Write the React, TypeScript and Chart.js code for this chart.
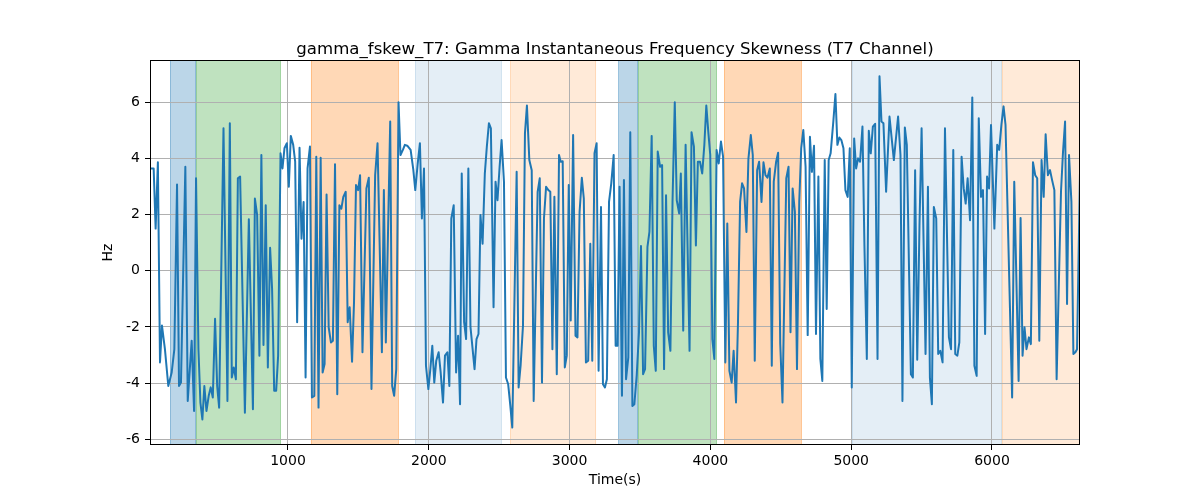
import React, { useEffect, useRef } from "react";
import { Chart, registerables } from "chart.js";

Chart.register(...registerables);

const TITLE = "gamma_fskew_T7: Gamma Instantaneous Frequency Skewness (T7 Channel)";
const X_LABEL = "Time(s)";
const Y_LABEL = "Hz";
const X_TICKS = [1000, 2000, 3000, 4000, 5000, 6000];
const Y_TICKS = [-6, -4, -2, 0, 2, 4, 6];
const X_MIN = 20;
const X_MAX = 6625;
const Y_MIN = -6.2;
const Y_MAX = 7.5;

const TIMES = [
  20, 46, 60, 76, 91, 105, 126, 150, 174, 193, 212, 226, 240, 271, 288, 316, 333, 347, 364, 378,
  392, 406, 421, 437, 451, 466, 482, 497, 511, 542, 570, 587, 601, 615, 630, 644, 660, 694, 722, 751,
  765, 781,
  797, 811, 826, 842, 857, 873, 887, 902, 916, 930, 947, 961, 975, 992, 1006, 1020, 1037, 1051, 1065, 1082,
  1096, 1111, 1125, 1139, 1156, 1170, 1187, 1201, 1217, 1232, 1246, 1260, 1274, 1289, 1305, 1319, 1334, 1350,
  1365, 1379, 1393, 1410, 1424, 1438, 1455, 1469, 1483, 1498, 1512,
  1529, 1557, 1574, 1593, 1619, 1636, 1667, 1681, 1695, 1726, 1740, 1754, 1769, 1785, 1799, 1816, 1830, 1847,
  1871, 1890, 1904, 1921, 1937, 1951, 1966, 1980, 1997, 2011, 2025, 2039, 2053, 2070, 2084, 2101, 2115, 2132,
  2146, 2160, 2177, 2194, 2208, 2222, 2234, 2251, 2265, 2281,
  2296, 2325, 2339, 2353, 2367, 2382, 2398, 2412, 2427, 2441, 2460, 2474, 2488, 2503, 2517, 2534, 2548, 2564,
  2579, 2593, 2624, 2638, 2652, 2669, 2683, 2697, 2714, 2731, 2745, 2773, 2788, 2804, 2818, 2833, 2849, 2863,
  2878, 2892, 2909, 2925, 2937, 2951, 2966, 2980, 2994, 3008, 3025,
  3042, 3056, 3071, 3087, 3101, 3116, 3132, 3147, 3161, 3177, 3192, 3206, 3223, 3237, 3251, 3265, 3280, 3296,
  3313, 3327, 3341, 3355, 3372, 3386, 3401, 3417, 3431, 3446, 3460, 3477, 3493, 3507, 3522, 3536, 3553, 3567,
  3583, 3598, 3612, 3626, 3643, 3657, 3671, 3685, 3700, 3716, 3731, 3747, 3761, 3778,
  3790, 3807, 3824, 3852, 3866, 3883, 3897, 3911, 3926, 3942, 3957, 3971, 3985, 3999, 4014, 4028, 4044, 4059,
  4075, 4090, 4106, 4120, 4135, 4151, 4165, 4182, 4196, 4211, 4225, 4239, 4256, 4270, 4287, 4301, 4315, 4332,
  4346, 4363, 4377, 4391, 4405, 4422, 4436, 4450, 4467, 4481, 4496, 4512,
  4539, 4555, 4569, 4584, 4600, 4615, 4631, 4645, 4660, 4676, 4691, 4707, 4721, 4736, 4750, 4767, 4781, 4795,
  4812, 4826, 4840, 4854, 4873, 4888, 4902, 4916, 4930, 4945, 4959, 4975, 4990, 5004, 5021, 5035, 5049, 5063,
  5080, 5094, 5111, 5125, 5139, 5154, 5170, 5187, 5201, 5215, 5229, 5248, 5272,
  5303, 5333, 5350, 5364, 5381, 5395, 5424, 5438, 5454, 5469, 5485, 5500, 5528, 5545, 5559, 5573, 5587, 5604,
  5618, 5633, 5649, 5666, 5694, 5709, 5725, 5739, 5754, 5768, 5784, 5799, 5813, 5827, 5844, 5860, 5875, 5891,
  5906, 5922, 5936, 5951, 5965, 5979, 5993, 6017,
  6037, 6051, 6067, 6082, 6096, 6143, 6158, 6189, 6203, 6217, 6231, 6245, 6262, 6276, 6291, 6307, 6321, 6336,
  6352, 6367, 6381, 6397, 6412, 6428, 6443, 6459, 6490, 6504, 6519, 6533, 6547, 6564, 6578, 6592, 6604, 6625,
];

const VALUES = [
  3.64, 3.64, 1.5, 3.86, -3.26, -1.95, -2.79, -4.1, -3.62, -2.79, 3.07, -4.1, -3.98, 3.7, -4.63, -2.49, -4.99, 3.29, -2.79, -4.69,
  -5.29, -4.1, -4.99, -4.45, -4.15, -4.51, -1.71, -4.1, -4.87, 5.07, -4.63, 5.25, -3.8, -3.44, -3.86, 3.29, 3.35, -5.05, 1.83, -4.93,
  2.57, 1.98,
  -3.02, 4.12, -2.64, 2.33, -3.44, 0.82, -0.64, -4.27, -4.27, -3.02, 4.18, 3.64, 4.36, 4.54, 2.99, 4.8, 4.48, 3.88, -1.83, 4.38,
  1.14, 2.45, -3.8, 3.64, 4.42, -4.51, -4.45, 4.06, -4.87, 4.02, -3.62, -3.32, 2.71, -2.01, -2.55, -2.49, 3.79, -4.39,
  2.33, 2.21, 2.63, 2.81, -1.83, -1.3, -3.24, -1.12, 3.05, 2.87, 3.4,
  -2.9, 2.93, 3.31, -4.21, 3.4, 4.54, -2.9, 2.87, -2.55, 5.31, -4.1, -4.45, -3.5, 6.0, 4.12, 4.3, 4.48, 4.45,
  4.3, 3.6, 2.87, 3.8, 4.54, 1.86, 3.64, -3.38, -4.21, -3.5, -2.67, -3.98, -3.2, -2.9, -3.6, -4.69, -3.02, -2.9,
  -4.1, 1.86, 2.33, -3.62, -2.31, -4.75, 3.46, -1.83, -2.43, 3.64,
  -2.0, -3.5, -2.43, -2.25, 1.98, 0.96, 3.46, 4.4, 5.25, 5.07, -1.3, 3.17, 2.51, 3.7, 4.65, 3.17, -3.8, -4.04,
  -4.8, -5.58, 3.52, -4.15, -3.38, -1.95, 4.89, 5.88, 3.94, 3.58, -4.63, 2.81, 3.29, -3.98, 1.86, 2.99, 2.87, 2.81,
  -2.79, 2.63, -3.68, 4.12, 3.88, 3.9, -3.44, -3.02, 3.05, -1.77, 4.83,
  -2.31, -2.37, 2.1, 3.31, 2.57, -3.26, -3.2, 0.96, -3.2, 4.18, 4.54, -3.56, 2.27, -4.04, -4.15, -3.86, 2.45, 3.11,
  4.12, -2.67, -2.67, 2.99, -4.45, 3.23, -3.86, -3.08, 4.93, -4.81, -4.75, -3.7, -2.19, 0.88, -3.68, -3.5, 0.85, 1.38,
  4.8, -2.67, -3.56, 4.24, 3.7, 3.76, -3.5, 2.69, -2.19, -2.85, 2.45, 6.0, 2.51, 2.04,
  3.46, -2.13, 4.48, -2.85, 4.93, 4.42, 0.9, 3.88, 3.88, 3.46, 4.48, 5.88, 4.95, 4.12, -2.43, -3.14, 4.3, 3.82,
  4.6, 4.06, -3.26, 1.68, -3.56, -3.98, -2.85, -4.69, -1.83, 2.45, 3.11, 2.93, 1.38, 3.98, 4.83, 4.12, -3.2, 3.58,
  3.88, 2.45, 3.86, 3.4, 3.31, 3.64, -3.38, 3.17, 3.88, 4.2, -2.6, -4.69,
  3.29, 3.7, -2.19, 2.93, 2.1, -3.5, 2.45, 4.36, 5.01, 3.7, -2.29, 4.77, 3.52, 4.45, -2.25, 3.35, -3.14, -3.92,
  3.94, -1.36, 3.94, 4.18, 5.31, 6.29, 4.48, 4.74, 4.65, 4.36, 2.87, 2.63, 4.36, -4.15, 4.71, 3.64, 4.0, 3.88,
  5.13, 0.9, -3.14, 4.98, 4.18, 5.13, 5.23, -3.14, 6.92, 5.31, 5.25, 2.81, 5.49,
  3.94, 5.49, 4.12, -4.63, 5.1, 4.48, -3.68, -3.8, 3.58, -3.17, 1.62, 5.07, -2.96, 2.99, -3.8, -4.75, 2.27, 1.86,
  -2.96, -2.85, -3.26, 5.07, -2.37, -2.79, 4.3, -2.96, -3.02, -2.55, 4.06, 2.93, 2.39, 3.29, 1.8, 6.17, -3.38, -3.74,
  5.43, 2.63, 2.87, -2.25, 3.35, 2.93, 5.19, 1.5,
  4.48, 4.3, 5.2, 5.85, 5.19, -4.51, 3.17, -3.92, 1.88, -3.02, -2.01, -2.79, -2.37, -2.61, 3.86, 3.4, 3.29, -2.49,
  3.94, 2.63, 4.86, 3.4, 3.58, 3.2, 2.87, -3.86, 2.81, 4.2, 5.31, -1.18, 4.12, 2.45, -2.96, -2.9, -2.79, 3.52,
];

const SPAN_STARTS = [162, 349, 1163, 1902, 2577, 3346, 3488, 4097, 5003, 6069];
const SPAN_ENDS = [349, 948, 1786, 2518, 3188, 3488, 4045, 4648, 6069, 6625];
const SPAN_KINDS = ["blue", "green", "orange", "lightblue", "lightorange", "blue", "green", "orange", "lightblue", "lightorange"];

const SPAN_COLORS: Record<string, string> = {
  blue: "rgba(31,119,180,0.3)",
  green: "rgba(44,160,44,0.3)",
  orange: "rgba(255,127,14,0.3)",
  lightblue: "rgba(31,119,180,0.12)",
  lightorange: "rgba(255,127,14,0.16)",
};

const FONT = "'DejaVu Sans', 'Liberation Sans', sans-serif";

const decorPlugin = {
  id: "decor",
  beforeDraw(chart: any) {
    const { ctx, chartArea, scales } = chart;
    ctx.save();
    ctx.fillStyle = "#ffffff";
    ctx.fillRect(0, 0, chart.width, chart.height);
    const xs = scales.x;
    for (let i = 0; i < SPAN_STARTS.length; i++) {
      const x0 = Math.max(xs.getPixelForValue(SPAN_STARTS[i]), chartArea.left);
      const x1 = Math.min(xs.getPixelForValue(SPAN_ENDS[i]), chartArea.right);
      const c = SPAN_COLORS[SPAN_KINDS[i]];
      ctx.fillStyle = c;
      ctx.fillRect(x0, chartArea.top, x1 - x0, chartArea.bottom - chartArea.top);
      ctx.strokeStyle = c;
      ctx.lineWidth = 1;
      ctx.beginPath();
      ctx.moveTo(Math.round(x0) + 0.5, chartArea.top);
      ctx.lineTo(Math.round(x0) + 0.5, chartArea.bottom);
      ctx.moveTo(Math.round(x1) - 0.5, chartArea.top);
      ctx.lineTo(Math.round(x1) - 0.5, chartArea.bottom);
      ctx.stroke();
    }
    ctx.restore();
  },
  afterDraw(chart: any) {
    const { ctx, chartArea } = chart;
    ctx.save();
    ctx.strokeStyle = "#000000";
    ctx.lineWidth = 1;
    const l = Math.round(chartArea.left) + 0.5;
    const r = Math.round(chartArea.right) - 0.5;
    const t = Math.round(chartArea.top) + 0.5;
    const b = Math.round(chartArea.bottom) - 0.5;
    ctx.strokeRect(l, t, r - l, b - t);

    const cx = (chartArea.left + chartArea.right) / 2;
    ctx.fillStyle = "#000000";
    ctx.textAlign = "center";
    ctx.textBaseline = "alphabetic";
    ctx.font = `16.6px ${FONT}`;
    ctx.fillText(TITLE, cx, 54);

    ctx.font = `14px ${FONT}`;
    ctx.fillText(X_LABEL, cx, 484);

    ctx.translate(112, (chartArea.top + chartArea.bottom) / 2);
    ctx.rotate(-Math.PI / 2);
    ctx.fillText(Y_LABEL, 0, 0);
    ctx.restore();
  },
};

export default function App() {
  const canvasRef = useRef<HTMLCanvasElement | null>(null);

  useEffect(() => {
    document.body.style.margin = "0";
    const canvas = canvasRef.current;
    if (!canvas) return;
    const points = TIMES.map((t, i) => ({ x: t, y: VALUES[i] }));
    const chart = new Chart(canvas, {
      type: "line",
      data: {
        datasets: [
          {
            data: points,
            borderColor: "#1f77b4",
            borderWidth: 2,
            pointRadius: 0,
            fill: false,
            tension: 0,
            borderJoinStyle: "round",
            borderCapStyle: "round",
          },
        ],
      },
      options: {
        responsive: false,
        animation: false,
        devicePixelRatio: 1,
        parsing: false,
        layout: { padding: { left: 0, right: 120, top: 60, bottom: 0 } },
        plugins: {
          legend: { display: false },
          title: { display: false },
          tooltip: { enabled: false },
        },
        scales: {
          x: {
            type: "linear",
            min: X_MIN,
            max: X_MAX,
            afterBuildTicks: (s: any) => {
              s.ticks = X_TICKS.map((v) => ({ value: v }));
            },
            afterFit: (s: any) => {
              s.height = 55;
            },
            grid: { color: "#b0b0b0", lineWidth: 1, tickColor: "#000000", tickLength: 5, drawTicks: true },
            border: { display: false },
            ticks: {
              color: "#000000",
              font: { family: FONT, size: 14 },
              padding: 3,
              maxRotation: 0,
              autoSkip: false,
              callback: (v: any) => String(v),
            },
          },
          y: {
            type: "linear",
            min: Y_MIN,
            max: Y_MAX,
            afterBuildTicks: (s: any) => {
              s.ticks = Y_TICKS.map((v) => ({ value: v }));
            },
            afterFit: (s: any) => {
              s.width = 150;
            },
            grid: { color: "#b0b0b0", lineWidth: 1, tickColor: "#000000", tickLength: 5, drawTicks: true },
            border: { display: false },
            ticks: {
              color: "#000000",
              font: { family: FONT, size: 14 },
              padding: 5,
              autoSkip: false,
              callback: (v: any) => String(v),
            },
          },
        },
      },
      plugins: [decorPlugin],
    });
    return () => chart.destroy();
  }, []);

  return (
    <div style={{ width: 1200, height: 500 }}>
      <canvas ref={canvasRef} width={1200} height={500} style={{ display: "block", width: 1200, height: 500 }} />
    </div>
  );
}
